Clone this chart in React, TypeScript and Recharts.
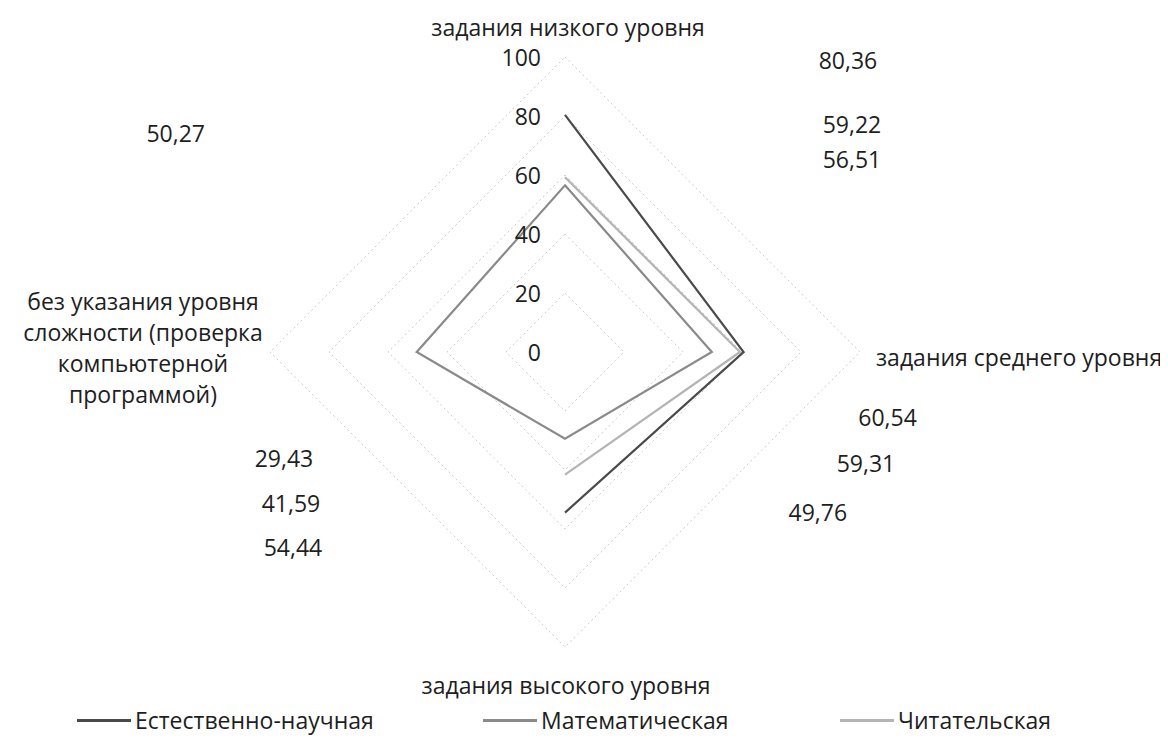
import React from 'react';
import { RadarChart, PolarGrid, PolarAngleAxis, PolarRadiusAxis, Radar, Legend } from 'recharts';

const categories = [
  'задания низкого уровня',
  'задания среднего уровня',
  'задания высокого уровня',
  'без указания уровня\nсложности (проверка\nкомпьютерной\nпрограммой)',
];
const naturalScience: (number | null)[] = [80.36, 60.54, 54.44, null];
const mathematics: (number | null)[] = [56.51, 49.76, 29.43, 50.27];
const reading: (number | null)[] = [59.22, 59.31, 41.59, null];
const radiusTicks = [0, 20, 40, 60, 80, 100];
const seriesNames = ['Естественно-научная', 'Математическая', 'Читательская'];

const data = categories.map((c, i) => ({
  category: c,
  ns: naturalScience[i],
  math: mathematics[i],
  read: reading[i],
}));

const W = 1168;
const H = 740;
const CX = 565;
const CY = 352;
const R = 295;
const FONT = '"Open Sans", "Noto Sans", sans-serif';
const TEXT = '#1e1e1e';
const FS = 23;

const COLORS: Record<string, string> = { ns: '#4a4a4a', math: '#8a8a8a', read: '#b4b4b4' };

// data-label offsets from each point (styling only)
const LABEL_OFFSETS: Record<string, number[][]> = {
  ns: [[283, -55], [144, 65], [-272, 34], [0, 0]],
  math: [[287, -26], [106, 160], [-281, 19], [-241, -219]],
  read: [[287, -53], [126, 111], [-274, 28], [0, 0]],
};

const fmt = (v: number) => v.toFixed(2).replace('.', ',');

const makeShape = (key: string) => (props: any) => {
  const pts: any[] = props.points || [];
  const segs: any[][] = [];
  let cur: any[] = [];
  pts.forEach((p) => {
    if (p && p.value != null && Number.isFinite(p.x) && Number.isFinite(p.y)) cur.push(p);
    else {
      if (cur.length) segs.push(cur);
      cur = [];
    }
  });
  if (cur.length) segs.push(cur);
  const closed = segs.length === 1 && segs[0].length === pts.length;
  const d =
    segs.map((s) => s.map((p, i) => `${i ? 'L' : 'M'}${p.x},${p.y}`).join('')).join('') + (closed ? 'Z' : '');
  const off = LABEL_OFFSETS[key];
  return (
    <g>
      <path d={d} fill="none" stroke={COLORS[key]} strokeWidth={2.2} strokeLinejoin="miter" />
      {pts.map((p, i) =>
        p && p.value != null && Number.isFinite(p.x) ? (
          <text
            key={i}
            x={p.x + off[i][0]}
            y={p.y + off[i][1]}
            textAnchor="middle"
            dominantBaseline="central"
            fontSize={FS}
            fontFamily={FONT}
            fill={TEXT}
          >
            {fmt(p.value)}
          </text>
        ) : null
      )}
    </g>
  );
};

const renderAngleTick = (props: any) => {
  const { payload, index } = props;
  const label: string = String(payload.value);
  const common = { fontSize: FS, fontFamily: FONT, fill: TEXT, dominantBaseline: 'central' as const };
  if (index === 0)
    return (
      <text x={CX + 3} y={27} textAnchor="middle" {...common}>
        {label}
      </text>
    );
  if (index === 1)
    return (
      <text x={876} y={357} textAnchor="start" {...common}>
        {label}
      </text>
    );
  if (index === 2)
    return (
      <text x={CX + 1} y={685} textAnchor="middle" {...common}>
        {label}
      </text>
    );
  const lines = label.split('\n');
  return (
    <g>
      {lines.map((ln, i) => (
        <text key={i} x={143} y={301 + i * 31} textAnchor="middle" {...common}>
          {ln}
        </text>
      ))}
    </g>
  );
};

const renderRadiusTick = (props: any) => {
  const { x, y, payload } = props;
  return (
    <text x={x - 24} y={y} textAnchor="end" dominantBaseline="central" fontSize={FS} fontFamily={FONT} fill={TEXT}>
      {payload.value}
    </text>
  );
};

const LEGEND_LEFT = [77, 483, 840];

const renderLegend = (props: any) => {
  const payload: any[] = props.payload || [];
  return (
    <div style={{ position: 'relative', width: W, height: 28 }}>
      {seriesNames.map((name, i) => {
        const item = payload.find((p) => p.value === name);
        const color = item ? item.color : '#888';
        return (
          <div
            key={name}
            style={{
              position: 'absolute',
              left: LEGEND_LEFT[i],
              top: 0,
              height: 28,
              display: 'flex',
              alignItems: 'center',
              fontFamily: FONT,
              fontSize: FS,
              color: TEXT,
              whiteSpace: 'nowrap',
            }}
          >
            <span style={{ display: 'inline-block', width: 54, height: 3, background: color, marginRight: 4 }} />
            <span>{name}</span>
          </div>
        );
      })}
    </div>
  );
};

export default function App() {
  return (
    <div style={{ width: W, height: H, marginLeft: -8, marginTop: -8, background: '#fff', position: 'relative' }}>
      <RadarChart
        width={W}
        height={H}
        data={data}
        cx={CX}
        cy={CY}
        outerRadius={R}
        startAngle={90}
        endAngle={-270}
        margin={{ top: 0, right: 0, bottom: 0, left: 0 }}
      >
        <PolarGrid gridType="polygon" radialLines={false} stroke="#cdcdcd" strokeDasharray="2 3" />
        <PolarAngleAxis dataKey="category" tick={renderAngleTick} axisLine={false} tickLine={false} />
        <PolarRadiusAxis
          angle={90}
          domain={[0, 100]}
          ticks={radiusTicks as any}
          tickCount={6}
          tick={renderRadiusTick}
          axisLine={false}
          tickLine={false}
        />
        <Radar
          name={seriesNames[2]}
          dataKey="read"
          stroke={COLORS.read}
          fill="none"
          isAnimationActive={false}
          shape={makeShape('read')}
        />
        <Radar
          name={seriesNames[1]}
          dataKey="math"
          stroke={COLORS.math}
          fill="none"
          isAnimationActive={false}
          shape={makeShape('math')}
        />
        <Radar
          name={seriesNames[0]}
          dataKey="ns"
          stroke={COLORS.ns}
          fill="none"
          isAnimationActive={false}
          shape={makeShape('ns')}
        />
        <Legend
          content={renderLegend}
          wrapperStyle={{ position: 'absolute', left: 0, top: 706, width: W, height: 28 }}
        />
      </RadarChart>
    </div>
  );
}
